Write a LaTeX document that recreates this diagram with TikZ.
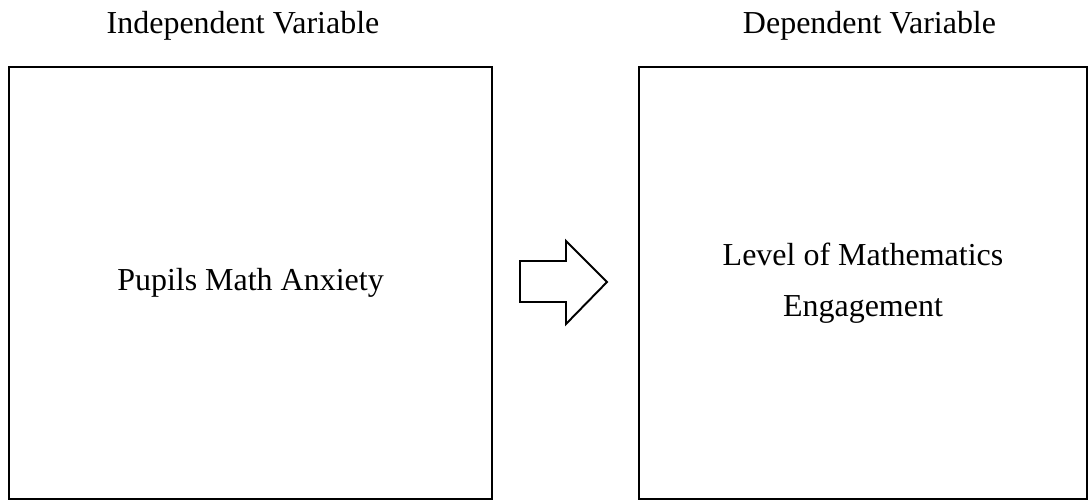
\documentclass[tikz,border=0pt]{standalone}
\usepackage{fontspec}
\setmainfont{Liberation Serif}

\begin{document}
\begin{tikzpicture}[x=0.02cm,y=-0.02cm]
      \tikzstyle{every node}=[font=\fontsize{18.2}{22}\selectfont];
      \tikzstyle{varbox}=[draw,line width=0.9pt,minimum height=8.64cm,align=center];
        \useasboundingbox (0,0) rectangle (1089,500);

        \path (250.5,283) node[varbox,minimum width=9.66cm] (indep) {Pupils Math Anxiety};
        \path (863,283) node[varbox,minimum width=8.96cm] (dep) {Level of Mathematics\\[7pt]Engagement};
        \path (243,34) node[anchor=base] (indeptitle) {Independent Variable};
        \path (869.5,34) node[anchor=base] (deptitle) {Dependent Variable};

        \draw[line width=1.1pt,line join=miter] (520,261) -- (566,261) -- (566,241)
            -- (607,282) -- (566,324) -- (566,302) -- (520,302) -- cycle;
    \end{tikzpicture}
\end{document}
